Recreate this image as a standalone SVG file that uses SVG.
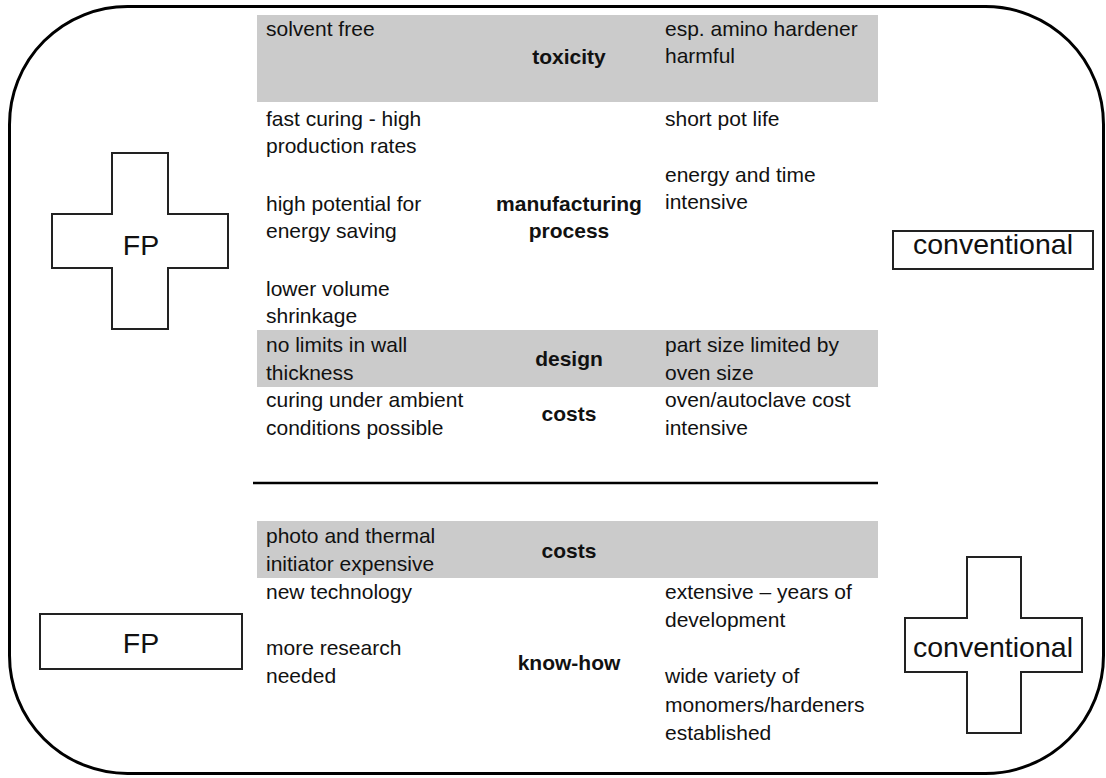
<svg xmlns="http://www.w3.org/2000/svg" width="1106" height="778" viewBox="0 0 1106 778">
  <style>
    .frame { fill: none; stroke: #000; stroke-width: 3; }
    .band { fill: #cbcbcb; }
    .rule { stroke: #000; stroke-width: 2.5; }
    .shape { fill: #fff; stroke: #222; stroke-width: 2; }
    .t { font-family: "Liberation Sans", Arial, sans-serif; font-size: 21px; fill: #111; }
    .h { font-family: "Liberation Sans", Arial, sans-serif; font-size: 21px; font-weight: bold; fill: #111; text-anchor: middle; }
    .lbl { font-family: "Liberation Sans", Arial, sans-serif; font-size: 28.5px; fill: #111; text-anchor: middle; }
  </style>
  <rect width="1106" height="778" fill="#fff"/>

  <!-- outer frame -->
  <rect class="frame" x="9.5" y="6.5" width="1094" height="767" rx="118" ry="118"/>

  <!-- shaded rows -->
  <rect class="band" x="257" y="15" width="621" height="87"/>
  <rect class="band" x="257" y="330" width="621" height="57"/>
  <rect class="band" x="257" y="521" width="621" height="57"/>

  <!-- separator -->
  <g id="connectors">
    <line class="rule" x1="253" y1="483" x2="878" y2="483"/>
  </g>

  <!-- upper comparison -->
  <g id="upper-table">
    <text class="t" x="266" y="36">solvent free</text>
    <text class="h" x="569" y="64">toxicity</text>
    <text class="t" x="665" y="36">esp. amino hardener</text>
    <text class="t" x="665" y="63">harmful</text>

    <text class="t" x="266" y="126">fast curing - high</text>
    <text class="t" x="266" y="153">production rates</text>
    <text class="t" x="266" y="211">high potential for</text>
    <text class="t" x="266" y="238">energy saving</text>
    <text class="t" x="266" y="296">lower volume</text>
    <text class="t" x="266" y="323">shrinkage</text>
    <text class="h" x="569" y="211">manufacturing</text>
    <text class="h" x="569" y="238">process</text>
    <text class="t" x="665" y="126">short pot life</text>
    <text class="t" x="665" y="182">energy and time</text>
    <text class="t" x="665" y="209">intensive</text>

    <text class="t" x="266" y="352">no limits in wall</text>
    <text class="t" x="266" y="380">thickness</text>
    <text class="h" x="569" y="366">design</text>
    <text class="t" x="665" y="352">part size limited by</text>
    <text class="t" x="665" y="380">oven size</text>

    <text class="t" x="266" y="407">curing under ambient</text>
    <text class="t" x="266" y="435">conditions possible</text>
    <text class="h" x="569" y="421">costs</text>
    <text class="t" x="665" y="407">oven/autoclave cost</text>
    <text class="t" x="665" y="435">intensive</text>
  </g>

  <!-- lower comparison -->
  <g id="lower-table">
    <text class="t" x="266" y="543">photo and thermal</text>
    <text class="t" x="266" y="571">initiator expensive</text>
    <text class="h" x="569" y="558">costs</text>

    <text class="t" x="266" y="599">new technology</text>
    <text class="t" x="266" y="655">more research</text>
    <text class="t" x="266" y="683">needed</text>
    <text class="h" x="569" y="670">know-how</text>
    <text class="t" x="665" y="599">extensive – years of</text>
    <text class="t" x="665" y="627">development</text>
    <text class="t" x="665" y="683">wide variety of</text>
    <text class="t" x="665" y="712">monomers/hardeners</text>
    <text class="t" x="665" y="740">established</text>
  </g>

  <!-- FP plus (upper) -->
  <g id="fp-plus">
    <path class="shape" d="M112 153 H168 V214 H228 V268 H168 V329 H112 V268 H52 V214 H112 Z"/>
    <text class="lbl" x="141" y="255">FP</text>
  </g>

  <!-- conventional box (upper) -->
  <g id="conventional-box">
    <rect class="shape" x="893" y="231" width="200" height="38"/>
    <text class="lbl" x="993" y="254">conventional</text>
  </g>

  <!-- FP box (lower) -->
  <g id="fp-box">
    <rect class="shape" x="40" y="614" width="202" height="55"/>
    <text class="lbl" x="141" y="653">FP</text>
  </g>

  <!-- conventional plus (lower) -->
  <g id="conventional-plus">
    <path class="shape" d="M967 557 H1021 V618 H1082 V672 H1021 V733 H967 V672 H905 V618 H967 Z"/>
    <text class="lbl" x="993" y="657">conventional</text>
  </g>
</svg>
